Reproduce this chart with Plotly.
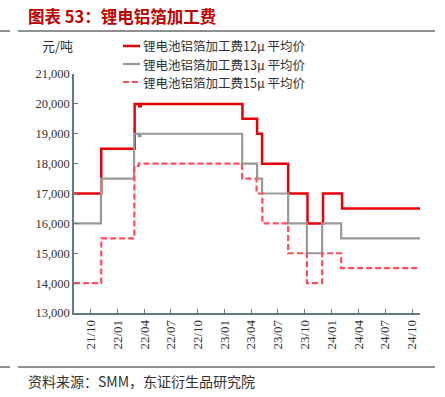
import plotly.graph_objects as go

# ---- data ----
red_dates = ["2021-08-04", "2021-11-05", "2022-02-27", "2022-03-14", "2022-03-20",
             "2023-03-02", "2023-04-21", "2023-05-08", "2023-08-05", "2023-10-10",
             "2023-12-02", "2024-02-05", "2024-10-28"]
red_vals = [17000, 18500, 20000, 19920, 20000, 19500, 19000, 18000, 17000, 16000,
            17000, 16500, 16500]

gray_dates = ["2021-08-04", "2021-11-04", "2022-02-25", "2022-03-13", "2022-03-19",
              "2023-03-01", "2023-04-21", "2023-05-08", "2023-08-05", "2023-10-08",
              "2023-11-29", "2024-02-02", "2024-10-28"]
gray_vals = [16000, 17500, 19000, 18920, 19000, 18000, 17500, 17000, 16000, 15000,
             16000, 15500, 15500]

pink_dates = ["2021-08-04", "2021-11-05", "2022-02-26", "2022-03-13",
              "2023-03-01", "2023-04-19", "2023-05-09", "2023-08-05", "2023-10-08",
              "2023-11-29", "2024-02-02", "2024-10-28"]
pink_vals = [14000, 15500, 17920, 18000, 17500, 17000, 16000, 15000, 14000,
             15000, 14500, 14500]

tick_dates = ["2021-10-01", "2022-01-01", "2022-04-01", "2022-07-01", "2022-10-01",
              "2023-01-01", "2023-04-01", "2023-07-01", "2023-10-01", "2024-01-01",
              "2024-04-01", "2024-07-01", "2024-10-01"]
tick_text = ["21/10", "22/01", "22/04", "22/07", "22/10", "23/01", "23/04",
             "23/07", "23/10", "24/01", "24/04", "24/07", "24/10"]

names = ["锂电池铝箔加工费12μ 平均价", "锂电池铝箔加工费13μ 平均价", "锂电池铝箔加工费15μ 平均价"]
colors = ["#E8000B", "#999999", "#FF4D5E"]
widths = [2.5, 2.2, 2.2]
dashes = ["solid", "solid", "6px,3px"]

# ---- layout constants ----
W, H = 445, 397
L, R, T, B = 74, 420, 74, 313
PW, PH = R - L, B - T

def px(x):
    return (x - L) / PW

def py(y):
    return (B - y) / PH

serif = "Liberation Serif, Times New Roman, serif"
cjk = "Noto Sans CJK SC, Liberation Serif, serif"
axis_col = "#5E7E7E"

fig = go.Figure()
series = [(red_dates, red_vals), (gray_dates, gray_vals), (pink_dates, pink_vals)]
for (d, v), n, c, w, ds in zip(series, names, colors, widths, dashes):
    fig.add_trace(go.Scatter(x=d, y=v, name=n, mode="lines",
                             line=dict(color=c, width=w, shape="hv", dash=ds)))

fig.update_layout(
    width=W, height=H,
    margin=dict(l=L, r=W - R, t=T, b=H - B, autoexpand=False),
    paper_bgcolor="white", plot_bgcolor="white",
    showlegend=False,
    font=dict(family=serif, size=12, color="#333333"),
)

fig.update_xaxes(
    type="date", range=["2021-08-04", "2024-10-28"],
    tickmode="array", tickvals=tick_dates, ticktext=tick_text,
    tickangle=-90, ticks="inside", ticklen=4, tickcolor=axis_col,
    showline=True, linecolor=axis_col, linewidth=1.5, showgrid=False, zeroline=False,
    tickfont=dict(family=serif, size=13, color="#333333"),
)
fig.update_yaxes(
    range=[13000, 21000], dtick=1000, tickformat=",",
    ticks="inside", ticklen=4, tickcolor=axis_col,
    showline=True, linecolor=axis_col, linewidth=1.5, showgrid=False, zeroline=False,
    tickfont=dict(family=serif, size=12.5, color="#333333"),
)

# legend drawn as key lines + labels
leg_font = 12.5
leg_rows = [46, 64, 82]
for yy, n, c, w, ds in zip(leg_rows, names, colors, widths, dashes):
    fig.add_shape(type="line", xref="paper", yref="paper",
                  x0=px(123), x1=px(140), y0=py(yy), y1=py(yy),
                  line=dict(color=c, width=w, dash=ds))
    fig.add_annotation(x=px(142), y=py(yy), xref="paper", yref="paper",
                       text=n, showarrow=False, xanchor="left", yanchor="middle",
                       borderpad=0,
                       font=dict(family=cjk, size=leg_font, color="#333333"))

# title, unit, source
fig.add_annotation(x=px(26), y=py(16), xref="paper", yref="paper",
                   text="<b>图表 53：锂电铝箔加工费</b>", showarrow=False,
                   xanchor="left", yanchor="middle",
                   font=dict(family=cjk, size=16.5, color="#C00000"))
fig.add_annotation(x=px(40), y=py(46), xref="paper", yref="paper",
                   text="元/吨", showarrow=False, xanchor="left", yanchor="middle",
                   font=dict(family=cjk, size=13, color="#333333"))
fig.add_annotation(x=px(26), y=py(381), xref="paper", yref="paper",
                   text="资料来源：SMM，东证衍生品研究院", showarrow=False,
                   xanchor="left", yanchor="middle",
                   font=dict(family=cjk, size=14, color="#333333"))

# separator lines
for yy in (31, 367):
    fig.add_shape(type="line", xref="paper", yref="paper",
                  x0=px(0), x1=px(10), y0=py(yy), y1=py(yy),
                  line=dict(color="#222222", width=1))
    fig.add_shape(type="line", xref="paper", yref="paper",
                  x0=px(18), x1=px(435), y0=py(yy), y1=py(yy),
                  line=dict(color="#222222", width=1))

fig.write_html("out.html", config={"displayModeBar": False},
               post_script="document.body.style.margin='0';document.body.style.padding='0';")
